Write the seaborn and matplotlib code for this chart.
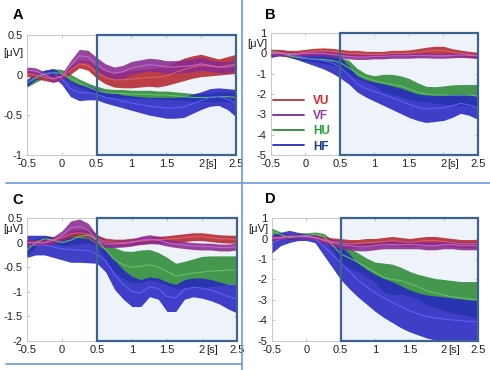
import numpy as np
import pandas as pd
import matplotlib
matplotlib.use("Agg")
import matplotlib.pyplot as plt
import matplotlib.transforms as mtransforms
from matplotlib.patches import Rectangle
from matplotlib.lines import Line2D
import seaborn as sns

# ---------------- data ----------------
conditions = ["VU", "VF", "HU", "HF"]
t = [-0.5, -0.375, -0.25, -0.125, 0.0, 0.125, 0.25, 0.375, 0.5, 0.625, 0.75, 0.875,
     1.0, 1.125, 1.25, 1.375, 1.5, 1.625, 1.75, 1.875, 2.0, 2.125, 2.25, 2.375, 2.5]
x_ticks = [-0.5, 0, 0.5, 1, 1.5, 2, 2.5]
x_ticklabels = ["-0.5", "0", "0.5", "1", "1.5", "2", "2.5"]

# Panel A
A_VU_mean = [0.02, 0.0, -0.03, -0.05, -0.02, 0.06, 0.14, 0.12, 0.03, -0.03, -0.06, -0.06, -0.05, -0.04, -0.03, -0.03, -0.01, 0.03, 0.07, 0.10, 0.12, 0.11, 0.10, 0.12, 0.14]
A_VU_sem = [0.04, 0.04, 0.04, 0.04, 0.04, 0.05, 0.05, 0.06, 0.07, 0.08, 0.09, 0.10, 0.11, 0.11, 0.11, 0.12, 0.12, 0.13, 0.14, 0.14, 0.14, 0.12, 0.10, 0.11, 0.12]
A_VF_mean = [0.06, 0.05, 0.0, -0.05, -0.02, 0.12, 0.24, 0.23, 0.14, 0.06, 0.02, 0.04, 0.09, 0.11, 0.13, 0.12, 0.10, 0.10, 0.11, 0.12, 0.14, 0.12, 0.10, 0.10, 0.12]
A_VF_sem = [0.04, 0.04, 0.04, 0.04, 0.04, 0.06, 0.08, 0.08, 0.08, 0.08, 0.08, 0.08, 0.08, 0.08, 0.08, 0.08, 0.08, 0.08, 0.08, 0.08, 0.08, 0.07, 0.07, 0.07, 0.07]
A_HU_mean = [-0.10, -0.04, 0.01, 0.03, 0.02, -0.04, -0.10, -0.15, -0.19, -0.22, -0.23, -0.23, -0.24, -0.24, -0.24, -0.25, -0.25, -0.26, -0.27, -0.28, -0.28, -0.28, -0.27, -0.27, -0.28]
A_HU_sem = [0.05, 0.05, 0.05, 0.05, 0.05, 0.05, 0.05, 0.05, 0.05, 0.05, 0.05, 0.05, 0.05, 0.05, 0.05, 0.05, 0.05, 0.05, 0.05, 0.05, 0.05, 0.05, 0.06, 0.06, 0.06]
A_HF_mean = [-0.10, -0.02, 0.02, 0.03, -0.05, -0.17, -0.22, -0.22, -0.24, -0.28, -0.30, -0.33, -0.35, -0.37, -0.39, -0.40, -0.41, -0.41, -0.40, -0.36, -0.32, -0.28, -0.27, -0.30, -0.35]
A_HF_sem = [0.04, 0.04, 0.04, 0.05, 0.07, 0.10, 0.10, 0.09, 0.07, 0.07, 0.08, 0.08, 0.09, 0.10, 0.11, 0.12, 0.13, 0.13, 0.13, 0.12, 0.11, 0.11, 0.11, 0.13, 0.17]

# Panel B
B_VU_mean = [0.05, 0.05, 0.0, 0.0, 0.05, 0.10, 0.12, 0.10, 0.05, 0.0, 0.0, -0.05, -0.05, -0.05, 0.0, 0.0, 0.0, 0.05, 0.10, 0.15, 0.15, 0.05, 0.0, -0.05, -0.10]
B_VU_sem = [0.15, 0.15, 0.15, 0.15, 0.15, 0.15, 0.15, 0.15, 0.15, 0.15, 0.15, 0.15, 0.15, 0.15, 0.15, 0.15, 0.17, 0.18, 0.20, 0.20, 0.20, 0.18, 0.16, 0.15, 0.15]
B_VF_mean = [0.0, 0.0, -0.05, -0.05, 0.0, 0.0, 0.0, -0.05, -0.10, -0.15, -0.18, -0.18, -0.15, -0.15, -0.12, -0.12, -0.12, -0.10, -0.10, -0.12, -0.12, -0.10, -0.08, -0.10, -0.12]
B_VF_sem = [0.12, 0.12, 0.12, 0.12, 0.12, 0.12, 0.12, 0.12, 0.12, 0.12, 0.12, 0.12, 0.12, 0.12, 0.12, 0.12, 0.12, 0.12, 0.12, 0.12, 0.12, 0.12, 0.12, 0.12, 0.12]
B_HU_mean = [0.10, 0.05, -0.10, -0.20, -0.25, -0.28, -0.30, -0.35, -0.45, -0.70, -1.00, -1.20, -1.35, -1.45, -1.52, -1.60, -1.75, -1.90, -2.00, -2.05, -2.05, -2.05, -2.05, -2.05, -2.10]
B_HU_sem = [0.10, 0.10, 0.10, 0.10, 0.12, 0.15, 0.20, 0.22, 0.25, 0.37, 0.26, 0.20, 0.25, 0.42, 0.49, 0.50, 0.52, 0.45, 0.38, 0.41, 0.45, 0.50, 0.52, 0.52, 0.57]
B_HF_mean = [-0.05, 0.0, -0.025, -0.14, -0.225, -0.29, -0.35, -0.45, -0.675, -1.05, -1.50, -1.725, -1.875, -2.025, -2.175, -2.325, -2.50, -2.65, -2.725, -2.70, -2.675, -2.575, -2.46, -2.535, -2.69]
B_HF_sem = [0.15, 0.12, 0.125, 0.16, 0.225, 0.31, 0.40, 0.50, 0.525, 0.45, 0.40, 0.425, 0.475, 0.525, 0.575, 0.625, 0.65, 0.65, 0.675, 0.65, 0.625, 0.575, 0.49, 0.515, 0.56]

# Panel C
C_VU_mean = [0.0, 0.0, 0.0, 0.05, 0.10, 0.18, 0.20, 0.17, 0.08, 0.02, 0.0, 0.0, 0.02, 0.03, 0.05, 0.06, 0.07, 0.08, 0.10, 0.12, 0.12, 0.10, 0.08, 0.07, 0.07]
C_VU_sem = [0.06, 0.06, 0.06, 0.06, 0.06, 0.07, 0.07, 0.07, 0.07, 0.07, 0.07, 0.07, 0.07, 0.07, 0.07, 0.07, 0.07, 0.08, 0.08, 0.08, 0.08, 0.08, 0.08, 0.08, 0.08]
C_VF_mean = [0.0, 0.0, 0.0, 0.05, 0.14, 0.30, 0.33, 0.25, 0.05, -0.03, -0.03, -0.02, 0.0, 0.05, 0.07, 0.05, 0.0, -0.03, -0.05, -0.07, -0.08, -0.08, -0.10, -0.10, -0.08]
C_VF_sem = [0.05, 0.05, 0.05, 0.07, 0.10, 0.14, 0.15, 0.14, 0.10, 0.07, 0.07, 0.07, 0.07, 0.08, 0.09, 0.08, 0.07, 0.07, 0.07, 0.07, 0.07, 0.07, 0.07, 0.07, 0.07]
C_HU_mean = [-0.15, 0.0, 0.08, 0.05, 0.0, 0.05, 0.13, 0.15, 0.05, -0.15, -0.35, -0.45, -0.50, -0.48, -0.45, -0.50, -0.58, -0.68, -0.65, -0.62, -0.60, -0.58, -0.57, -0.56, -0.56]
C_HU_sem = [0.12, 0.08, 0.06, 0.06, 0.06, 0.10, 0.15, 0.15, 0.12, 0.20, 0.25, 0.28, 0.32, 0.33, 0.31, 0.30, 0.28, 0.26, 0.27, 0.29, 0.32, 0.31, 0.30, 0.29, 0.29]
C_HF_mean = [-0.075, -0.05, -0.05, -0.09, -0.125, -0.14, -0.15, -0.165, -0.235, -0.375, -0.65, -0.85, -0.995, -1.025, -0.90, -0.935, -1.10, -1.125, -0.95, -0.91, -0.925, -0.965, -1.025, -1.10, -1.14]
C_HF_sem = [0.225, 0.20, 0.20, 0.21, 0.225, 0.26, 0.25, 0.245, 0.185, 0.225, 0.30, 0.30, 0.305, 0.275, 0.20, 0.215, 0.30, 0.275, 0.20, 0.19, 0.205, 0.215, 0.225, 0.25, 0.29]

# Panel D
D_VU_mean = [0.0, 0.05, 0.10, 0.10, 0.10, 0.05, -0.05, -0.15, -0.20, -0.25, -0.25, -0.20, -0.20, -0.15, -0.10, -0.15, -0.20, -0.15, -0.10, -0.10, -0.15, -0.20, -0.25, -0.25, -0.25]
D_VU_sem = [0.10, 0.10, 0.10, 0.10, 0.10, 0.12, 0.15, 0.18, 0.20, 0.20, 0.20, 0.20, 0.20, 0.20, 0.20, 0.20, 0.20, 0.20, 0.20, 0.20, 0.20, 0.20, 0.20, 0.20, 0.20]
D_VF_mean = [0.0, 0.05, 0.10, 0.10, 0.10, 0.05, -0.10, -0.20, -0.30, -0.35, -0.40, -0.40, -0.35, -0.30, -0.30, -0.30, -0.30, -0.30, -0.35, -0.35, -0.30, -0.30, -0.35, -0.35, -0.35]
D_VF_sem = [0.10, 0.10, 0.10, 0.10, 0.10, 0.12, 0.15, 0.18, 0.20, 0.20, 0.20, 0.20, 0.20, 0.20, 0.20, 0.20, 0.20, 0.20, 0.20, 0.20, 0.20, 0.20, 0.20, 0.20, 0.20]
D_HU_mean = [0.35, 0.20, 0.05, 0.10, 0.15, 0.20, 0.10, -0.30, -0.75, -0.95, -1.15, -1.40, -1.65, -1.90, -2.00, -2.05, -2.20, -2.35, -2.55, -2.65, -2.75, -2.85, -2.90, -2.95, -3.00]
D_HU_sem = [0.15, 0.12, 0.10, 0.12, 0.12, 0.12, 0.15, 0.25, 0.45, 0.50, 0.45, 0.45, 0.50, 0.70, 0.75, 0.65, 0.60, 0.60, 0.70, 0.70, 0.75, 0.80, 0.80, 0.85, 0.90]
D_HF_mean = [-0.25, -0.025, 0.10, 0.10, 0.075, 0.0, -0.375, -0.775, -1.175, -1.60, -2.025, -2.35, -2.65, -2.90, -3.10, -3.325, -3.525, -3.675, -3.80, -3.875, -3.925, -3.975, -4.00, -4.05, -4.05]
D_HF_sem = [0.45, 0.325, 0.30, 0.20, 0.175, 0.20, 0.425, 0.625, 0.825, 0.85, 0.825, 0.85, 0.90, 0.95, 1.00, 1.025, 1.025, 1.025, 1.05, 1.075, 1.075, 1.075, 1.05, 1.05, 1.05]

panel_names = ["A", "B", "C", "D"]
A_yticks = [0.5, 0, -0.5, -1]
B_yticks = [1, 0, -1, -2, -3, -4, -5]
C_yticks = [0.5, 0, -0.5, -1, -1.5, -2]
D_yticks = [1, 0, -1, -2, -3, -4, -5]

# ---------------- style ----------------
fill_colors = {"VU": "#b3262d", "VF": "#8a2a90", "HU": "#2e8a36", "HF": "#2626bf"}
mean_colors = {"VU": "#e0616a", "VF": "#c46ccc", "HU": "#66c46a", "HF": "#6060ff"}
legend_line_colors = {"VU": "#b8353a", "VF": "#7a2d8a", "HU": "#2e8b3a", "HF": "#2b2bb5"}
legend_text_colors = ["#e8202a", "#8e3fa0", "#1fa339", "#1d3a8a"]
draw_order = ["HU", "HF", "VU", "VF"]

sns.set_style("white")
plt.rcParams["font.family"] = ["Liberation Sans", "DejaVu Sans"]
plt.rcParams["axes.unicode_minus"] = False

fig = plt.figure(figsize=(4.9, 3.7), dpi=100)
positions = {
    "A": [0.0551, 0.581, 0.4265, 0.3243],
    "B": [0.553, 0.581, 0.4224, 0.3297],
    "C": [0.0551, 0.0784, 0.4286, 0.3324],
    "D": [0.5551, 0.0784, 0.4204, 0.3324],
}
letter_pos = {"A": (0.026, 0.959), "B": (0.540, 0.959), "C": (0.026, 0.459), "D": (0.540, 0.462)}
uv_y = {"A": 0.27, "B": 0.48, "C": 0.28, "D": 0.48}

data = {
    "A": {"VU": (A_VU_mean, A_VU_sem), "VF": (A_VF_mean, A_VF_sem), "HU": (A_HU_mean, A_HU_sem), "HF": (A_HF_mean, A_HF_sem)},
    "B": {"VU": (B_VU_mean, B_VU_sem), "VF": (B_VF_mean, B_VF_sem), "HU": (B_HU_mean, B_HU_sem), "HF": (B_HF_mean, B_HF_sem)},
    "C": {"VU": (C_VU_mean, C_VU_sem), "VF": (C_VF_mean, C_VF_sem), "HU": (C_HU_mean, C_HU_sem), "HF": (C_HF_mean, C_HF_sem)},
    "D": {"VU": (D_VU_mean, D_VU_sem), "VF": (D_VF_mean, D_VF_sem), "HU": (D_HU_mean, D_HU_sem), "HF": (D_HF_mean, D_HF_sem)},
}
yticks = {"A": A_yticks, "B": B_yticks, "C": C_yticks, "D": D_yticks}


def long_frame(panel):
    rows = []
    for cond in conditions:
        means, sems = data[panel][cond]
        for ti, m, s in zip(t, means, sems):
            rows.append({"t": ti, "v": m - s, "cond": cond})
            rows.append({"t": ti, "v": m + s, "cond": cond})
    return pd.DataFrame(rows)


for p in panel_names:
    ax = fig.add_axes(positions[p])
    yt = yticks[p]
    ymax, ymin = max(yt), min(yt)
    df = long_frame(p)
    sns.lineplot(data=df, x="t", y="v", hue="cond", hue_order=draw_order,
                 palette=fill_colors, estimator="mean",
                 errorbar=lambda v: (v.min(), v.max()), legend=False, ax=ax,
                 linewidth=0.8, err_kws={"alpha": 0.88, "linewidth": 0})
    for line, cond in zip(ax.lines, draw_order):
        line.set_color(mean_colors[cond])
        line.set_alpha(0.9)
        line.set_zorder(4)
    for coll in ax.collections:
        coll.set_zorder(3)

    ax.set_xlim(-0.5, 2.5)
    ax.set_ylim(ymin, ymax)
    # highlighted analysis window
    ax.add_patch(Rectangle((0.5, ymin), 2.0, ymax - ymin, facecolor="#eef3fa",
                           edgecolor="none", zorder=0.5))
    ax.add_patch(Rectangle((0.5, ymin), 2.0, ymax - ymin, facecolor="none",
                           edgecolor="#3d6390", linewidth=1.6, zorder=6, clip_on=False))

    ax.set_xticks(x_ticks)
    ax.set_xticklabels(x_ticklabels)
    ax.set_yticks(yt)
    ax.set_yticklabels([f"{v:g}" for v in yt])
    ax.set_xlabel("")
    ax.set_ylabel("")
    ax.tick_params(direction="in", length=2, width=0.6, color="#bbbbbb",
                   labelsize=8, labelcolor="#222222", pad=3, top=True, right=True,
                   bottom=True, left=True)
    for sp in ax.spines.values():
        sp.set_color("#c8c8c8")
        sp.set_linewidth(0.7)

    trans = mtransforms.blended_transform_factory(ax.transAxes, ax.transData)
    ax.text(-0.018, uv_y[p], "[μV]", transform=trans, ha="right", va="center",
            fontsize=8, color="#222222")
    ax.annotate("[s]", xy=(2, 0), xycoords=("data", "axes fraction"),
                xytext=(3.0, -3.0), textcoords="offset points", ha="left", va="top",
                fontsize=8, color="#222222")

    fig.text(letter_pos[p][0], letter_pos[p][1], p, fontsize=10.5, fontweight="bold",
             ha="left", va="center", color="black")

    if p == "B":
        handles = [Line2D([], [], color=legend_line_colors[c], linewidth=1.3) for c in conditions]
        leg = ax.legend(handles, conditions, labelcolor=legend_text_colors,
                        prop={"weight": "bold", "size": 8.5}, frameon=False,
                        loc="lower left", bbox_to_anchor=(0.01, 0.02),
                        handlelength=2.6, handletextpad=0.8, labelspacing=0.28,
                        borderpad=0, borderaxespad=0)
        leg.set_zorder(7)

# panel divider lines
div_color = "#6a9ad6"
fig.add_artist(Line2D([0.494, 0.494], [0.0, 1.0], transform=fig.transFigure,
                      color=div_color, linewidth=1.2))
fig.add_artist(Line2D([0.012, 1.0], [0.5054, 0.5054], transform=fig.transFigure,
                      color=div_color, linewidth=1.2))
fig.add_artist(Line2D([0.012, 0.494], [0.016, 0.016], transform=fig.transFigure,
                      color=div_color, linewidth=1.2))

fig.savefig("out.png", dpi=100)
